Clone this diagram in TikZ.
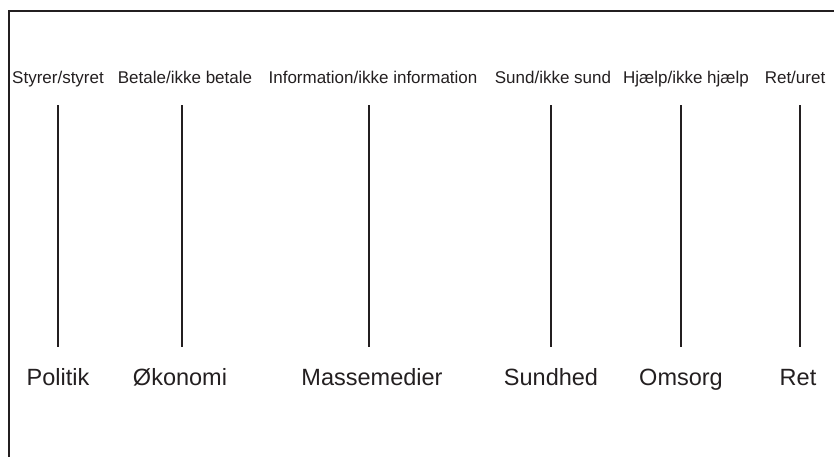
\documentclass[tikz,border=0pt]{standalone}
\usepackage{fontspec}
\setmainfont{Liberation Sans}
\definecolor{ink}{HTML}{231F20}
\tikzset{
  toplabel/.style={anchor=base, inner sep=0pt, text=ink, font=\fontsize{17}{20}\selectfont},
  botlabel/.style={anchor=base, inner sep=0pt, text=ink, font=\fontsize{23.5}{27}\selectfont},
  divider/.style={draw=ink, line width=2pt},
  frameline/.style={draw=ink, line width=2.5pt}
}
\begin{document}
\begin{tikzpicture}[x=1pt, y=-1pt]
\useasboundingbox (0,0) rectangle (834,456);
% frame
\coordinate (fbl) at (9,457);
\coordinate (ftl) at (9,11);
\coordinate (ftr) at (835,11);
\draw[frameline] (fbl) -- (ftl) -- (ftr);
% top labels
\node[toplabel] (t1) at (58,83) {Styrer/styret};
\node[toplabel] (t2) at (185,83) {Betale/ikke betale};
\node[toplabel] (t3) at (373,83) {Information/ikke information};
\node[toplabel] (t4) at (553,83) {Sund/ikke sund};
\node[toplabel] (t5) at (686,83) {Hjælp/ikke hjælp};
\node[toplabel] (t6) at (795,83) {Ret/uret};
% bottom labels
\node[botlabel] (b1) at (58,385) {Politik};
\node[botlabel] (b2) at (180,385) {Økonomi};
\node[botlabel] (b3) at (372,385) {Massemedier};
\node[botlabel] (b4) at (551,385) {Sundhed};
\node[botlabel] (b5) at (681,385) {Omsorg};
\node[botlabel] (b6) at (798,385) {Ret};
% divider ends
\foreach \i/\x in {1/58,2/182,3/369,4/551,5/681,6/800}{
  \coordinate (u\i) at (\x,105);
  \coordinate (d\i) at (\x,347);
}
\foreach \i in {1,...,6}{
  \draw[divider] (u\i) -- (d\i);
}
\end{tikzpicture}
\end{document}
